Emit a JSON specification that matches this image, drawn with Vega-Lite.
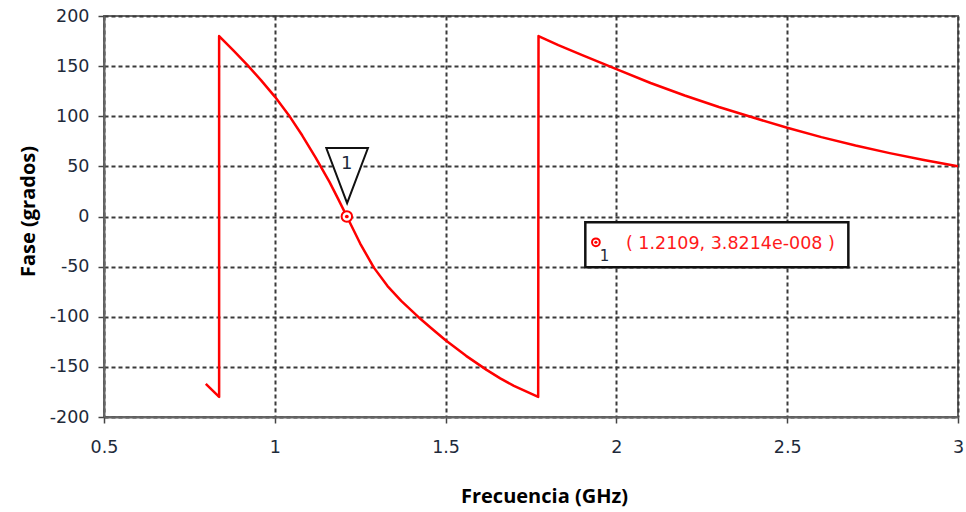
{
  "$schema": "https://vega.github.io/schema/vega-lite/v6.json",
  "autosize": "none",
  "width": 854,
  "height": 401,
  "padding": {"left": 104, "top": 16, "right": 8, "bottom": 95},
  "background": "white",
  "config": {
    "view": {"stroke": "#666", "strokeWidth": 2},
    "axis": {
      "domainColor": "#666",
      "domainWidth": 2,
      "tickColor": "#444",
      "tickSize": 6,
      "tickWidth": 1.5,
      "gridColor": "#3a3a3a",
      "gridDash": [4, 3],
      "gridWidth": 2,
      "gridOpacity": 1,
      "labelFont": "DejaVu Sans",
      "labelFontSize": 17.5,
      "labelColor": "#1e2a3a",
      "labelFlush": false,
      "titleFont": "Open Sans",
      "titleFontSize": 20,
      "titleFontWeight": "bold",
      "titleColor": "#000"
    }
  },
  "datasets": {
    "curve": [
      {"i": 0, "f": 0.798, "p": -167},
      {"i": 1, "f": 0.837, "p": -180},
      {"i": 2, "f": 0.837, "p": 180},
      {"i": 3, "f": 0.88, "p": 165.2},
      {"i": 4, "f": 0.92, "p": 151},
      {"i": 5, "f": 0.96, "p": 135.8},
      {"i": 6, "f": 1.0, "p": 119.6},
      {"i": 7, "f": 1.04, "p": 101.6},
      {"i": 8, "f": 1.08, "p": 81},
      {"i": 9, "f": 1.12, "p": 58.5},
      {"i": 10, "f": 1.16, "p": 34.5},
      {"i": 11, "f": 1.185, "p": 17.8},
      {"i": 12, "f": 1.211, "p": 0},
      {"i": 13, "f": 1.25, "p": -27},
      {"i": 14, "f": 1.29, "p": -51},
      {"i": 15, "f": 1.33, "p": -69.4},
      {"i": 16, "f": 1.37, "p": -84.2},
      {"i": 17, "f": 1.42, "p": -100.2},
      {"i": 18, "f": 1.46, "p": -112},
      {"i": 19, "f": 1.5, "p": -123.4},
      {"i": 20, "f": 1.56, "p": -139},
      {"i": 21, "f": 1.62, "p": -153},
      {"i": 22, "f": 1.66, "p": -161.5},
      {"i": 23, "f": 1.7, "p": -169},
      {"i": 24, "f": 1.771, "p": -180},
      {"i": 25, "f": 1.772, "p": 180},
      {"i": 26, "f": 1.83, "p": 171},
      {"i": 27, "f": 1.9, "p": 161},
      {"i": 28, "f": 1.95, "p": 154},
      {"i": 29, "f": 2.0, "p": 147},
      {"i": 30, "f": 2.1, "p": 133.2},
      {"i": 31, "f": 2.2, "p": 120.7},
      {"i": 32, "f": 2.3, "p": 109.2},
      {"i": 33, "f": 2.4, "p": 98.7},
      {"i": 34, "f": 2.5, "p": 88.5},
      {"i": 35, "f": 2.6, "p": 79.2},
      {"i": 36, "f": 2.7, "p": 70.8},
      {"i": 37, "f": 2.8, "p": 63.2},
      {"i": 38, "f": 2.9, "p": 56.3},
      {"i": 39, "f": 3.0, "p": 50}
    ],
    "box": [{"f1": 1.909, "f2": 2.679, "p1": -5.7, "p2": -50.6}],
    "tri": [{"f": 1.2117, "p": 40.8}],
    "markers": [{"f": 1.2109, "p": 0, "s": 110, "d": 14}, {"f": 1.94, "p": -25.7, "s": 60, "d": 10}],
    "nums": [
      {"f": 1.2109, "p": 52.7, "t": "1", "size": 18},
      {"f": 1.965, "p": -39, "t": "1", "size": 15}
    ],
    "coord": [{"f": 2.028, "p": -27, "t": "( 1.2109, 3.8214e-008 )"}]
  },
  "encoding": {
    "x": {
      "type": "quantitative",
      "scale": {"domain": [0.5, 3], "nice": false, "zero": false},
      "axis": {
        "title": "Frecuencia (GHz)",
        "values": [0.5, 1, 1.5, 2, 2.5, 3],
        "format": ".2~f",
        "labelPadding": 15,
        "titleX": 440,
        "titleY": 85,
        "titleBaseline": "alphabetic",
        "titleAlign": "center"
      }
    },
    "y": {
      "type": "quantitative",
      "scale": {"domain": [-200, 200], "nice": false, "zero": false},
      "axis": {
        "title": "Fase (grados)",
        "values": [-200, -150, -100, -50, 0, 50, 100, 150, 200],
        "labelExpr": "'' + datum.value",
        "labelPadding": 9,
        "titleX": -70,
        "titleY": 195,
        "titleAngle": -90,
        "titleAlign": "center",
        "titleBaseline": "alphabetic"
      }
    }
  },
  "layer": [
    {
      "data": {"name": "curve"},
      "mark": {"type": "line", "color": "#ff0000", "strokeWidth": 2.5, "clip": true, "strokeJoin": "round"},
      "encoding": {
        "x": {"field": "f", "type": "quantitative"},
        "y": {"field": "p", "type": "quantitative"},
        "order": {"field": "i", "type": "quantitative"}
      }
    },
    {
      "data": {"name": "box"},
      "mark": {"type": "rect", "fill": "white", "stroke": "#111", "strokeWidth": 2.5},
      "encoding": {
        "x": {"field": "f1", "type": "quantitative"},
        "x2": {"field": "f2"},
        "y": {"field": "p1", "type": "quantitative"},
        "y2": {"field": "p2"}
      }
    },
    {
      "data": {"name": "tri"},
      "mark": {"type": "point", "shape": "M-0.757,-1L0.757,-1L0,1Z", "size": 3025, "filled": true, "fill": "white", "stroke": "#111", "strokeWidth": 2, "opacity": 1},
      "encoding": {
        "x": {"field": "f", "type": "quantitative"},
        "y": {"field": "p", "type": "quantitative"}
      }
    },
    {
      "data": {"name": "markers"},
      "mark": {"type": "point", "shape": "circle", "filled": true, "fill": "white", "stroke": "#ff0000", "strokeWidth": 2, "opacity": 1},
      "encoding": {
        "x": {"field": "f", "type": "quantitative"},
        "y": {"field": "p", "type": "quantitative"},
        "size": {"field": "s", "type": "quantitative", "scale": null}
      }
    },
    {
      "data": {"name": "markers"},
      "mark": {"type": "point", "shape": "circle", "filled": true, "color": "#ff0000", "opacity": 1},
      "encoding": {
        "x": {"field": "f", "type": "quantitative"},
        "y": {"field": "p", "type": "quantitative"},
        "size": {"field": "d", "type": "quantitative", "scale": null}
      }
    },
    {
      "data": {"name": "nums"},
      "mark": {"type": "text", "font": "DejaVu Sans", "baseline": "middle", "align": "center", "color": "#1e2a3a"},
      "encoding": {
        "x": {"field": "f", "type": "quantitative"},
        "y": {"field": "p", "type": "quantitative"},
        "text": {"field": "t"},
        "size": {"field": "size", "type": "quantitative", "scale": null}
      }
    },
    {
      "data": {"name": "coord"},
      "mark": {"type": "text", "font": "DejaVu Sans", "baseline": "middle", "align": "left", "color": "#ff1a1a", "fontSize": 17.5},
      "encoding": {
        "x": {"field": "f", "type": "quantitative"},
        "y": {"field": "p", "type": "quantitative"},
        "text": {"field": "t"}
      }
    }
  ]
}
